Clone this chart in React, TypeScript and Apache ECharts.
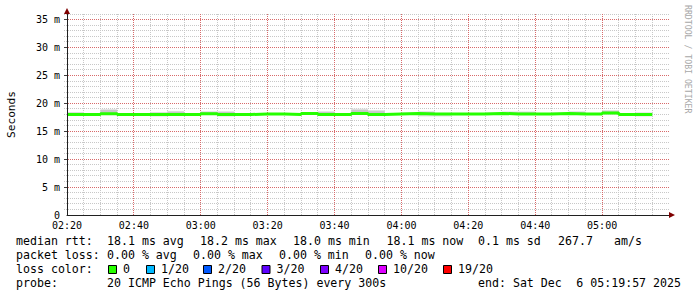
import React, { useEffect, useRef } from "react";
import * as echarts from "echarts";

// ---- data ----
const xTickLabels = ["02:20", "02:40", "03:00", "03:20", "03:40", "04:00", "04:20", "04:40", "05:00"];
const yTickLabels = ["0", "5 m", "10 m", "15 m", "20 m", "25 m", "30 m", "35 m"];
const stepMinutes = 5; // 300 s steps, starting 02:20
const medianRtt = [
  18.0, 18.0, 18.15, 18.0, 18.0, 18.0, 18.0, 18.0, 18.15, 18.0,
  18.0, 18.1, 18.1, 18.0, 18.2, 18.0, 18.0, 18.2, 18.0, 18.1,
  18.2, 18.1, 18.1, 18.1, 18.1, 18.2, 18.1, 18.1, 18.1, 18.2,
  18.1, 18.1, 18.25, 18.0, 18.0,
];
const smokeMax = [
  18.45, 18.2, 19.0, 18.15, 18.15, 18.45, 18.65, 18.15, 18.6, 18.6,
  18.15, 18.25, 18.25, 18.15, 18.35, 18.6, 18.15, 19.05, 18.8, 18.25,
  18.35, 18.6, 18.3, 18.25, 18.25, 18.35, 18.55, 18.55, 18.25, 18.35,
  18.6, 18.25, 18.8, 18.15, 18.4,
];
const smokeCoreMax = [
  18.3, 18.15, 18.8, 18.1, 18.1, 18.3, 18.5, 18.1, 18.45, 18.45,
  18.1, 18.2, 18.2, 18.1, 18.3, 18.45, 18.1, 18.85, 18.6, 18.2,
  18.3, 18.45, 18.2, 18.2, 18.2, 18.3, 18.4, 18.4, 18.2, 18.3,
  18.45, 18.2, 18.6, 18.1, 18.25,
];
const smokeMin = [
  17.85, 17.9, 17.9, 17.9, 17.9, 17.65, 17.85, 17.9, 17.9, 17.65,
  17.9, 17.9, 17.9, 17.9, 17.95, 17.9, 17.9, 17.95, 17.85, 17.9,
  17.95, 17.65, 17.65, 17.9, 17.9, 17.95, 17.9, 17.9, 17.9, 17.95,
  17.9, 17.9, 17.95, 17.85, 17.65,
];
const rttStats = ["18.1 ms avg", "18.2 ms max", "18.0 ms min", "18.1 ms now", "0.1 ms sd", "267.7", "am/s"];
const lossStats = ["0.00 % avg", "0.00 % max", "0.00 % min", "0.00 % now"];
const lossLabels = ["0", "1/20", "2/20", "3/20", "4/20", "10/20", "19/20"];
const lossColors = ["#26ff00", "#00b8ff", "#0059ff", "#5e00ff", "#7e00ff", "#dd00ff", "#ff0000"];
const probeText = "20 ICMP Echo Pings (56 Bytes) every 300s";
const endTextA = "end: Sat Dec";
const endTextB = "6 05:19:57 2025";

// ---- layout ----
const W = 697;
const H = 297;
const X_MAX = 180;
const Y_MAX = 36;
const X_MINOR_STEP = 5;
const X_MAJOR_STEP = 20;
const Y_MINOR_STEP = 1;
const Y_MAJOR_STEP = 5;
const MONO = '"DejaVu Sans Mono", monospace';
const LEG_FONT = 11.6;
const rttX = [107, 200, 293, 386.5, 478, 558, 614];
const lossX = [107, 193, 279, 365];
const swatchX = [108, 146, 203, 261.5, 320, 378, 443];
const lineY = [241, 255, 269, 283];
const MAJOR = "#d86a6a";
const MINOR = "#c8c8c8";

function txt(text: string, x: number, y: number, extra: any = {}) {
  return {
    type: "text",
    x,
    y,
    silent: true,
    style: {
      text,
      fill: "#000",
      font: `${LEG_FONT}px ${MONO}`,
      textAlign: "left",
      textVerticalAlign: "middle",
      ...extra,
    },
  };
}

export default function App() {
  const ref = useRef<HTMLDivElement>(null);

  useEffect(() => {
    if (!ref.current) return;
    const chart = echarts.init(ref.current, undefined, { renderer: "svg", width: W, height: H });

    const medianPts: number[][] = medianRtt.map((v, i) => [i * stepMinutes, v]);
    medianPts.push([medianRtt.length * stepMinutes, medianRtt[medianRtt.length - 1]]);
    const smokeData = medianRtt.map((m, i) => [i * stepMinutes, smokeMin[i], smokeMax[i], m, smokeCoreMax[i]]);

    // grid line positions (layout)
    const xGrid: number[][] = [];
    for (let m = X_MINOR_STEP; m < X_MAX; m += X_MINOR_STEP) xGrid.push([m, 0, m % X_MAJOR_STEP === 0 ? 1 : 0]);
    const yGrid: number[][] = [];
    for (let v = Y_MINOR_STEP; v <= Y_MAX; v += Y_MINOR_STEP) yGrid.push([0, v, v % Y_MAJOR_STEP === 0 ? 1 : 0]);

    const graphics: any[] = [];
    graphics.push({
      type: "text",
      x: 11,
      y: 114.5,
      rotation: Math.PI / 2,
      silent: true,
      style: { text: "Seconds", fill: "#000", font: `11.2px ${MONO}`, textAlign: "center", textVerticalAlign: "middle" },
    });
    graphics.push({
      type: "text",
      x: 688,
      y: 5,
      rotation: -Math.PI / 2,
      silent: true,
      style: { text: "RRDTOOL / TOBI OETIKER", fill: "#a8a8a8", font: `8.2px ${MONO}`, textAlign: "left", textVerticalAlign: "middle" },
    });
    graphics.push({ type: "polygon", silent: true, z: 10, shape: { points: [[64, 14], [70, 14], [67, 8]] }, style: { fill: "#7f0000" } });
    graphics.push({ type: "polygon", silent: true, z: 10, shape: { points: [[669, 212], [669, 218], [675, 215]] }, style: { fill: "#7f0000" } });

    graphics.push(txt("median rtt:", 16, lineY[0]));
    rttStats.forEach((s, i) => graphics.push(txt(s, rttX[i], lineY[0])));
    graphics.push(txt("packet loss:", 16, lineY[1]));
    lossStats.forEach((s, i) => graphics.push(txt(s, lossX[i], lineY[1])));
    graphics.push(txt("loss color:", 16, lineY[2]));
    lossLabels.forEach((s, i) => {
      graphics.push({
        type: "rect",
        silent: true,
        shape: { x: swatchX[i] + 0.5, y: 265.5, width: 8, height: 8 },
        style: { fill: lossColors[i], stroke: "#000", lineWidth: 1 },
      });
      graphics.push(txt(s, swatchX[i] + 15, lineY[2]));
    });
    graphics.push(txt("probe:", 16, lineY[3]));
    graphics.push(txt(probeText, 107, lineY[3]));
    graphics.push(txt(endTextA, 478, lineY[3]));
    graphics.push(txt(endTextB, 681, lineY[3], { textAlign: "right" }));

    const crisp = (v: number) => Math.round(v - 0.5) + 0.5;

    chart.setOption({
      animation: false,
      backgroundColor: "#ffffff",
      grid: { left: 67, right: 28, top: 14, bottom: 82, containLabel: false },
      xAxis: {
        type: "value",
        min: 0,
        max: X_MAX,
        interval: X_MINOR_STEP,
        z: 5,
        axisLine: { show: true, lineStyle: { color: "#202020", width: 1 } },
        axisTick: { show: false },
        axisLabel: {
          show: true,
          interval: 0,
          margin: 5,
          color: "#000",
          fontFamily: MONO,
          fontSize: 10,
          showMaxLabel: false,
          formatter: (v: number) => (v % X_MAJOR_STEP === 0 && v < X_MAX ? xTickLabels[v / X_MAJOR_STEP] : ""),
        },
        splitLine: { show: false },
      },
      yAxis: {
        type: "value",
        min: 0,
        max: Y_MAX,
        interval: Y_MINOR_STEP,
        z: 5,
        axisLine: { show: true, onZero: false, lineStyle: { color: "#202020", width: 1 } },
        axisTick: { show: false },
        axisLabel: {
          show: true,
          margin: 7,
          color: "#000",
          fontFamily: MONO,
          fontSize: 10,
          showMaxLabel: false,
          formatter: (v: number) => (v % Y_MAJOR_STEP === 0 && v <= 35 ? yTickLabels[v / Y_MAJOR_STEP] : ""),
        },
        splitLine: { show: false },
      },
      series: [
        {
          // vertical grid lines
          type: "custom",
          silent: true,
          z: 1,
          clip: false,
          dimensions: ["gx", "gy", "major"],
          encode: { x: 0, y: 1 },
          data: xGrid,
          renderItem: (_p: any, api: any) => {
            const v = api.value(0);
            const isMajor = api.value(2) === 1;
            const b = api.coord([v, 0]);
            const t = api.coord([v, Y_MAX]);
            const x = crisp(b[0]);
            return {
              type: "line",
              z2: isMajor ? 2 : 1,
              shape: { x1: x, y1: t[1], x2: x, y2: b[1] },
              style: { stroke: isMajor ? MAJOR : MINOR, lineWidth: 1, lineDash: [1, 1] },
            };
          },
        },
        {
          // horizontal grid lines
          type: "custom",
          silent: true,
          z: 1,
          clip: false,
          dimensions: ["gx", "gy", "major"],
          encode: { x: 0, y: 1 },
          data: yGrid,
          renderItem: (_p: any, api: any) => {
            const v = api.value(1);
            const isMajor = api.value(2) === 1;
            const l = api.coord([0, v]);
            const r = api.coord([X_MAX, v]);
            const y = crisp(l[1]);
            const children: any[] = [
              { type: "line", z2: isMajor ? 2 : 1, shape: { x1: l[0] - 3, y1: y, x2: r[0], y2: y }, style: { stroke: isMajor ? MAJOR : MINOR, lineWidth: 1, lineDash: [1, 1] } },
            ];
            if (isMajor) {
              children.push({ type: "line", z2: 3, shape: { x1: l[0] - 3, y1: y, x2: l[0], y2: y }, style: { stroke: "#404040", lineWidth: 1 } });
            }
            return { type: "group", children };
          },
        },
        {
          type: "custom",
          silent: true,
          z: 2,
          encode: { x: 0, y: [1, 2] },
          data: smokeData,
          renderItem: (_params: any, api: any) => {
            const x = api.value(0) as number;
            const lo = api.value(1);
            const hi = api.value(2);
            const med = api.value(3);
            const core = api.value(4);
            const a = api.coord([x, hi]);
            const b = api.coord([x + stepMinutes, lo]);
            const c = api.coord([x, core]);
            const d = api.coord([x + stepMinutes, med]);
            return {
              type: "group",
              children: [
                { type: "rect", shape: { x: a[0], y: a[1], width: b[0] - a[0], height: b[1] - a[1] }, style: { fill: "#e2e2e2" } },
                { type: "rect", shape: { x: c[0], y: c[1], width: d[0] - c[0], height: d[1] - c[1] }, style: { fill: "#c8c8c8" } },
              ],
            };
          },
        },
        {
          type: "line",
          silent: true,
          z: 3,
          step: "end",
          symbol: "none",
          data: medianPts,
          lineStyle: { color: "#26ff00", width: 3 },
        },
      ],
      graphic: graphics,
    });

    return () => {
      chart.dispose();
    };
  }, []);

  return (
    <div
      ref={ref}
      style={{ position: "fixed", left: 0, top: 0, width: W, height: H, background: "#fff" }}
    />
  );
}
